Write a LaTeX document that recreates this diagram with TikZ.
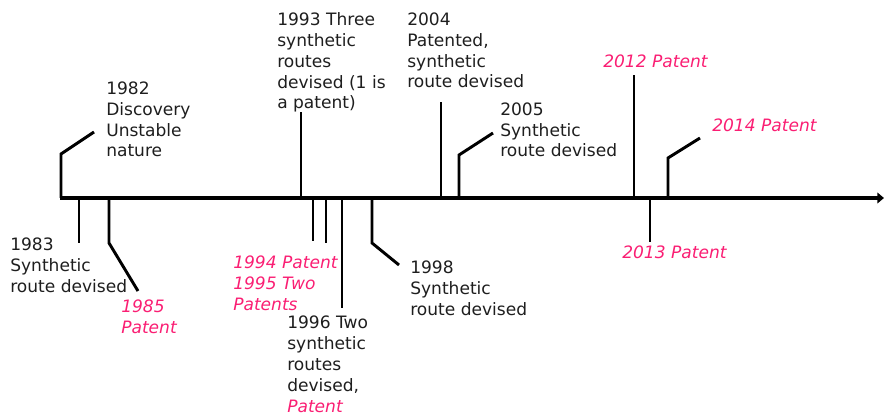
\documentclass[tikz,border=0pt]{standalone}
\usepackage{fontspec}
\setmainfont{DejaVu Sans}
\usetikzlibrary{arrows.meta}
\definecolor{pat}{RGB}{250,30,115}
\definecolor{txt}{RGB}{30,30,30}
\begin{document}
\begin{tikzpicture}[x=0.75pt,y=-0.75pt,
  lbl/.style={anchor=base west,inner sep=0,align=left,text=txt,font=\fontsize{12.8}{15.6}\selectfont},
  plbl/.style={lbl,text=pat,font=\fontsize{12.8}{15.6}\selectfont\itshape},
  tickline/.style={line width=2.2pt,line join=miter},
  axisline/.style={line width=2.8pt,-{Triangle[length=5pt,width=8pt]}}]
\useasboundingbox (0,0) rectangle (884,413);
% axis
\coordinate (a0) at (60,198);
\coordinate (a1) at (884,198);
\draw[axisline] (a0) -- (a1);
% labels (anchored at baseline of last line)
\node[lbl] (l1982) at (106,157) {1982\\Discovery\\Unstable\\nature};
\node[lbl] (l1983) at (10,292) {1983\\Synthetic\\route devised};
\node[plbl] (l1985) at (121,333) {1985\\Patent};
\node[lbl] (l1993) at (277,109) {1993 Three\\synthetic\\routes\\devised (1 is\\a patent)};
\node[plbl] (l1994) at (233,310) {1994 Patent\\1995 Two\\Patents};
\node[lbl] (l1996) at (287,412) {1996 Two\\synthetic\\routes\\devised,\\{\color{pat}\itshape Patent}};
\node[lbl] (l1998) at (410,315) {1998\\Synthetic\\route devised};
\node[lbl] (l2004) at (407,88) {2004\\Patented,\\synthetic\\route devised};
\node[lbl] (l2005) at (500,157) {2005\\Synthetic\\route devised};
\node[plbl] (l2012) at (603,68) {2012 Patent};
\node[plbl] (l2013) at (622,258) {2013 Patent};
\node[plbl] (l2014) at (712,132) {2014 Patent};
% tick bases on axis
\coordinate (t1982) at (61,198);
\coordinate (t1983) at (79,198);
\coordinate (t1985) at (109,198);
\coordinate (t1993) at (301,198);
\coordinate (t1994) at (313,198);
\coordinate (t1995) at (326,198);
\coordinate (t1996) at (342,198);
\coordinate (t1998) at (372,198);
\coordinate (t2004) at (441,198);
\coordinate (t2005) at (459,198);
\coordinate (t2012) at (634,198);
\coordinate (t2013) at (650,198);
\coordinate (t2014) at (668,198);
% free ends
\coordinate (e1982) at (94,132);
\coordinate (e1983) at (79,243);
\coordinate (e1985) at (138,291);
\coordinate (e1993) at (301,112);
\coordinate (e1994) at (313,241);
\coordinate (e1995) at (326,243);
\coordinate (e1996) at (342,308);
\coordinate (e1998) at (399,265);
\coordinate (e2004) at (441,102);
\coordinate (e2005) at (493,133);
\coordinate (e2012) at (634,75);
\coordinate (e2013) at (650,242);
\coordinate (e2014) at (700,138);
% ticks
\draw[tickline] (t1982) -- ++(0,-44) -- (e1982);
\draw[tickline] (t1983) -- (e1983);
\draw[tickline] (t1985) -- ++(0,45) -- (e1985);
\draw[tickline] (t1993) -- (e1993);
\draw[tickline] (t1994) -- (e1994);
\draw[tickline] (t1995) -- (e1995);
\draw[tickline] (t1996) -- (e1996);
\draw[tickline] (t1998) -- ++(0,45) -- (e1998);
\draw[tickline] (t2004) -- (e2004);
\draw[tickline] (t2005) -- ++(0,-43) -- (e2005);
\draw[tickline] (t2012) -- (e2012);
\draw[tickline] (t2013) -- (e2013);
\draw[tickline] (t2014) -- ++(0,-40) -- (e2014);
\end{tikzpicture}
\end{document}
